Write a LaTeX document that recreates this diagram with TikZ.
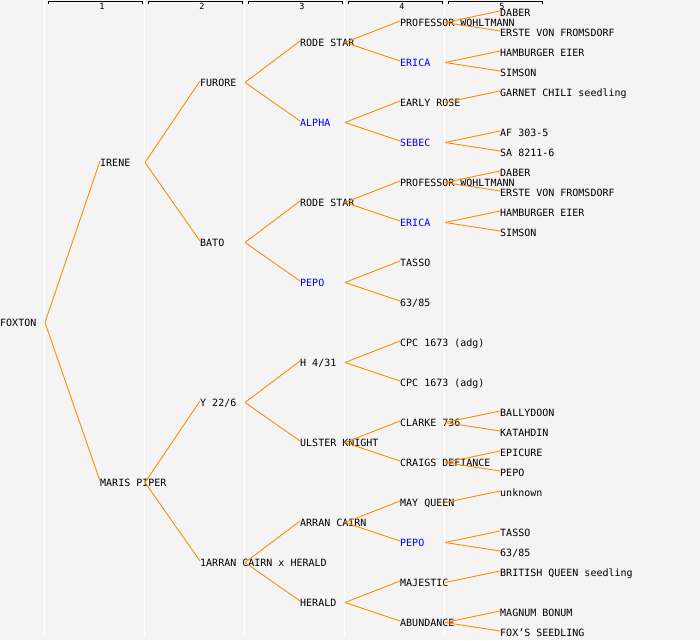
\documentclass[tikz,border=0pt]{standalone}
\usepackage{fontspec}
\setmainfont{DejaVu Sans Mono}
\usepackage{tikz}
\definecolor{bgc}{HTML}{F4F4F4}
\definecolor{linkc}{HTML}{FF8C00}
\tikzset{pn/.style={anchor=west, inner sep=0pt, text height=7.3pt, text depth=0pt, font=\fontsize{10}{12}\selectfont}}
\tikzset{ph/.style={pn, text=blue}}
\tikzset{link/.style={draw=linkc, line width=0.9pt}}
\tikzset{gen/.style={draw=black, line width=0.9pt}}
\tikzset{sep/.style={draw=white, line width=1pt}}

\begin{document}
\begin{tikzpicture}[x=1pt, y=-1pt]
            \fill[bgc] (0,0) rectangle (700,640);
            \useasboundingbox (0,0) rectangle (700,640);
            \foreach \k in {0,...,4} {
                \draw[sep] (44.5+100*\k, 0) -- (44.5+100*\k, 637);
                \draw[gen] (48+100*\k, 4) -- ++(0,-3) -- ++(94,0) -- ++(0,3);
                \node[font=\fontsize{8.5}{9}\selectfont, inner sep=0pt] (hd\k) at (102+100*\k, 6.5) {\the\numexpr\k+1\relax};
            }
            \node[pn] (fox) at (0, 322.5) {FOXTON};
            \node[pn] (ire) at (100, 162.5) {IRENE};
            \node[pn] (mar) at (100, 482.5) {MARIS PIPER};
            \node[pn] (fur) at (200, 82.5) {FURORE};
            \node[pn] (bat) at (200, 242.5) {BATO};
            \node[pn] (y22) at (200, 402.5) {Y 22/6};
            \node[pn] (arh) at (200, 562.5) {1ARRAN CAIRN x HERALD};
            \node[pn] (rs1) at (300, 42.5) {RODE STAR};
            \node[ph] (alp) at (300, 122.5) {ALPHA};
            \node[pn] (rs2) at (300, 202.5) {RODE STAR};
            \node[ph] (pep1) at (300, 282.5) {PEPO};
            \node[pn] (h431) at (300, 362.5) {H 4/31};
            \node[pn] (uk) at (300, 442.5) {ULSTER KNIGHT};
            \node[pn] (ac) at (300, 522.5) {ARRAN CAIRN};
            \node[pn] (her) at (300, 602.5) {HERALD};
            \node[pn] (pw1) at (400, 22.5) {PROFESSOR WOHLTMANN};
            \node[ph] (eri1) at (400, 62.5) {ERICA};
            \node[pn] (er) at (400, 102.5) {EARLY ROSE};
            \node[ph] (seb) at (400, 142.5) {SEBEC};
            \node[pn] (pw2) at (400, 182.5) {PROFESSOR WOHLTMANN};
            \node[ph] (eri2) at (400, 222.5) {ERICA};
            \node[pn] (tas1) at (400, 262.5) {TASSO};
            \node[pn] (sxa) at (400, 302.5) {63/85};
            \node[pn] (cpc1) at (400, 342.5) {CPC 1673 (adg)};
            \node[pn] (cpc2) at (400, 382.5) {CPC 1673 (adg)};
            \node[pn] (cla) at (400, 422.5) {CLARKE 736};
            \node[pn] (cd) at (400, 462.5) {CRAIGS DEFIANCE};
            \node[pn] (mq) at (400, 502.5) {MAY QUEEN};
            \node[ph] (pep2) at (400, 542.5) {PEPO};
            \node[pn] (maj) at (400, 582.5) {MAJESTIC};
            \node[pn] (abu) at (400, 622.5) {ABUNDANCE};
            \node[pn] (dab1) at (500, 12.5) {DABER};
            \node[pn] (ers1) at (500, 32.5) {ERSTE VON FROMSDORF};
            \node[pn] (ham1) at (500, 52.5) {HAMBURGER EIER};
            \node[pn] (sim1) at (500, 72.5) {SIMSON};
            \node[pn] (gar) at (500, 92.5) {GARNET CHILI seedling};
            \node[pn] (af) at (500, 132.5) {AF 303-5};
            \node[pn] (sa) at (500, 152.5) {SA 8211-6};
            \node[pn] (dab2) at (500, 172.5) {DABER};
            \node[pn] (ers2) at (500, 192.5) {ERSTE VON FROMSDORF};
            \node[pn] (ham2) at (500, 212.5) {HAMBURGER EIER};
            \node[pn] (sim2) at (500, 232.5) {SIMSON};
            \node[pn] (bal) at (500, 412.5) {BALLYDOON};
            \node[pn] (kat) at (500, 432.5) {KATAHDIN};
            \node[pn] (epi) at (500, 452.5) {EPICURE};
            \node[pn] (pep3) at (500, 472.5) {PEPO};
            \node[pn] (unk) at (500, 492.5) {unknown};
            \node[pn] (tas2) at (500, 532.5) {TASSO};
            \node[pn] (sxb) at (500, 552.5) {63/85};
            \node[pn] (bq) at (500, 572.5) {BRITISH QUEEN seedling};
            \node[pn] (mb) at (500, 612.5) {MAGNUM BONUM};
            \node[pn] (fs) at (500, 632.5) {FOX'S SEEDLING};
            \foreach \p/\c in {fox/ire, fox/mar, ire/fur, ire/bat, mar/y22, mar/arh,
                fur/rs1, fur/alp, bat/rs2, bat/pep1, y22/h431, y22/uk, arh/ac, arh/her,
                rs1/pw1, rs1/eri1, alp/er, alp/seb, rs2/pw2, rs2/eri2, pep1/tas1, pep1/sxa,
                h431/cpc1, h431/cpc2, uk/cla, uk/cd, ac/mq, ac/pep2, her/maj, her/abu,
                pw1/dab1, pw1/ers1, eri1/ham1, eri1/sim1, er/gar, seb/af, seb/sa,
                pw2/dab2, pw2/ers2, eri2/ham2, eri2/sim2, cla/bal, cla/kat, cd/epi, cd/pep3,
                mq/unk, pep2/tas2, pep2/sxb, maj/bq, abu/mb, abu/fs} {
                \draw[link] ([xshift=45pt]\p.west) -- ([yshift=1.5pt]\c.west);
            }
        \end{tikzpicture}
\end{document}
